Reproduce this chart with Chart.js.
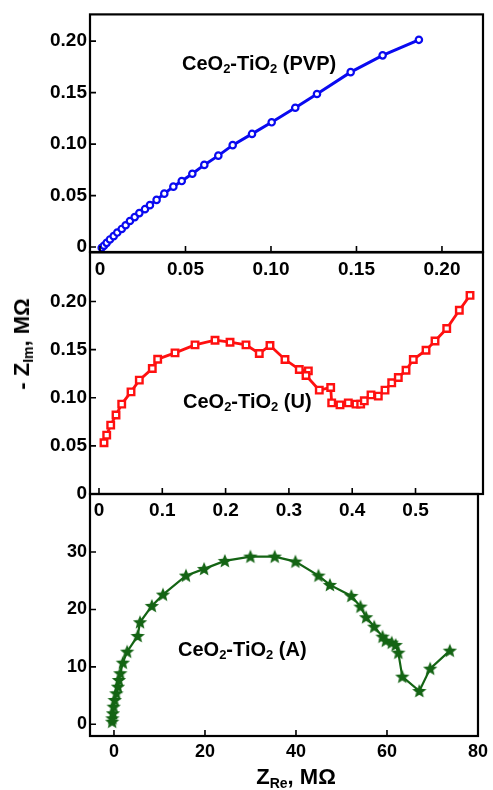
<!DOCTYPE html>
<html>
<head>
<meta charset="utf-8">
<script src="https://cdn.jsdelivr.net/npm/chart.js@4.4.1/dist/chart.umd.min.js"></script>
<style>
    html, body { margin: 0; padding: 0; background: #fff; }
    #wrap { position: relative; width: 493px; height: 790px; overflow: hidden;
            font-family: "Liberation Sans", Arial, sans-serif; font-weight: bold; color: #000; }
    canvas { position: absolute; left: 0; }
    .lbl { position: absolute; white-space: nowrap; font-size: 20px; line-height: 1; }
    .lbl sub { font-size: 13px; vertical-align: -3px; line-height: 0; }
    .ttl { position: absolute; white-space: nowrap; font-size: 22px; line-height: 1;
           transform: translate(-50%, -50%); }
    .ttl sub { font-size: 14px; vertical-align: -4px; line-height: 0; }
    .rot { transform: translate(-50%, -50%) rotate(-90deg); }
</style>
</head>
<body>
<div id="wrap">
    <canvas id="c1" width="493" height="290" style="top:0"></canvas>
    <canvas id="c2" width="493" height="292" style="top:238px"></canvas>
    <canvas id="c3" width="493" height="296" style="top:480px"></canvas>
    <div class="lbl" style="left:182px;top:53px">CeO<sub>2</sub>-TiO<sub>2</sub> (PVP)</div>
    <div class="lbl" style="left:183px;top:391px">CeO<sub>2</sub>-TiO<sub>2</sub> (U)</div>
    <div class="lbl" style="left:178px;top:639px">CeO<sub>2</sub>-TiO<sub>2</sub> (A)</div>
    <div class="ttl rot" style="left:22px;top:344px">- Z<sub>Im</sub>, MΩ</div>
    <div class="ttl" style="left:296px;top:777px">Z<sub>Re</sub>, MΩ</div>
</div>
<script>
// CeO2-TiO2 (PVP)
const pvpRe = [0.0010, 0.0023, 0.0039, 0.0058, 0.0080, 0.0101, 0.0127, 0.0150, 0.0175, 0.0203,
               0.0230, 0.0263, 0.0292, 0.0331, 0.0376, 0.0429, 0.0478, 0.0540, 0.0610, 0.0692,
               0.0776, 0.0889, 0.1004, 0.1142, 0.1269, 0.1466, 0.1653, 0.1865];
const pvpIm = [-0.0007, 0.0013, 0.0041, 0.0074, 0.0106, 0.0141, 0.0176, 0.0212, 0.0253, 0.0291,
               0.0330, 0.0368, 0.0407, 0.0458, 0.0519, 0.0587, 0.0641, 0.0712, 0.0798, 0.0888,
               0.0990, 0.1099, 0.1212, 0.1353, 0.1487, 0.1699, 0.1862, 0.2013];

// CeO2-TiO2 (U)
const uRe = [0.0079, 0.0122, 0.0185, 0.0269, 0.0359, 0.0506, 0.0637, 0.0842, 0.0927, 0.1201,
             0.1517, 0.1833, 0.2070, 0.2322, 0.2532, 0.2701, 0.2938, 0.3164, 0.3307, 0.3270,
             0.3480, 0.3660, 0.3676, 0.3807, 0.3938, 0.4060, 0.4134, 0.4191, 0.4297, 0.4412,
             0.4518, 0.4624, 0.4728, 0.4850, 0.4965, 0.5166, 0.5308, 0.5493, 0.5692, 0.5861];
const uIm = [0.0532, 0.0612, 0.0716, 0.0820, 0.0934, 0.1061, 0.1183, 0.1304, 0.1400, 0.1466,
             0.1549, 0.1598, 0.1577, 0.1549, 0.1460, 0.1543, 0.1397, 0.1294, 0.1279, 0.1231,
             0.1079, 0.1107, 0.0947, 0.0926, 0.0947, 0.0934, 0.0934, 0.0968, 0.1030, 0.1017,
             0.1079, 0.1155, 0.1211, 0.1286, 0.1397, 0.1494, 0.1590, 0.1719, 0.1909, 0.2064];

// CeO2-TiO2 (A)
const aRe = [-0.40, -0.35, -0.22, -0.07, 0.15, 0.52, 0.87, 1.08, 1.39, 1.95, 2.90,
             5.20, 5.72, 8.32, 10.77, 15.82, 19.80, 24.36, 29.99, 35.32, 39.87,
             44.94, 47.45, 52.16, 54.17, 55.41, 57.20, 59.02, 59.74, 61.04, 61.91,
             62.49, 63.36, 67.11, 69.49, 73.82];
const aIm = [0.45, 1.05, 1.92, 3.07, 4.23, 5.40, 6.55, 7.72, 8.89, 10.73, 12.65,
             15.38, 17.77, 20.61, 22.58, 25.89, 27.06, 28.45, 29.20, 29.20, 28.33,
             25.89, 24.27, 22.35, 20.49, 18.64, 17.00, 15.26, 14.56, 14.22, 13.82,
             12.47, 8.29, 5.80, 9.69, 12.82];

// ticks
const pvpXTicks = [0, 0.05, 0.10, 0.15, 0.20];
const pvpXLabels = ['0', '0.05', '0.10', '0.15', '0.20'];
const pvpYTicks = [0, 0.05, 0.10, 0.15, 0.20];
const pvpYLabels = ['0', '0.05', '0.10', '0.15', '0.20'];
const uXTicks = [0, 0.1, 0.2, 0.3, 0.4, 0.5];
const uXLabels = ['0', '0.1', '0.2', '0.3', '0.4', '0.5'];
const uYTicks = [0, 0.05, 0.10, 0.15, 0.20];
const uYLabels = ['0', '0.05', '0.10', '0.15', '0.20'];
const aXTicks = [0, 20, 40, 60, 80];
const aXLabels = ['0', '20', '40', '60', '80'];
const aYTicks = [0, 10, 20, 30];
const aYLabels = ['0', '10', '20', '30'];

function toPoints(xs, ys) {
    return xs.map((x, i) => ({ x: x, y: ys[i] }));
}

// filled five-point star marker
function makeStar(color) {
    const c = document.createElement('canvas');
    c.width = 16; c.height = 16;
    const g = c.getContext('2d');
    g.fillStyle = color;
    g.beginPath();
    for (let i = 0; i < 10; i++) {
        const r = i % 2 === 0 ? 7.5 : 3.3;
        const a = -Math.PI / 2 + i * Math.PI / 5;
        const px = 8 + r * Math.cos(a), py = 8.5 + r * Math.sin(a);
        if (i === 0) g.moveTo(px, py); else g.lineTo(px, py);
    }
    g.closePath();
    g.fill();
    return c;
}

// box round the plot area + inward tick marks
const framePlugin = {
    id: 'frame',
    afterDraw(chart) {
        const { ctx, chartArea: a, scales } = chart;
        ctx.save();
        ctx.strokeStyle = '#000';
        ctx.lineWidth = 2.2;
        ctx.strokeRect(a.left, a.top, a.right - a.left, a.bottom - a.top);
        ctx.lineWidth = 1.6;
        ctx.beginPath();
        scales.x.ticks.forEach(t => {
            const px = scales.x.getPixelForValue(t.value);
            ctx.moveTo(px, a.bottom); ctx.lineTo(px, a.bottom - 6);
        });
        scales.y.ticks.forEach(t => {
            const py = scales.y.getPixelForValue(t.value);
            ctx.moveTo(a.left, py); ctx.lineTo(a.left + 6, py);
        });
        ctx.stroke();
        ctx.restore();
    }
};

function makePanel(id, cfg) {
    const font = { family: '"Liberation Sans", Arial, sans-serif', size: cfg.fontSize, weight: 'bold' };
    return new Chart(document.getElementById(id), {
        type: 'scatter',
        data: {
            datasets: [{
                data: cfg.data,
                showLine: true,
                borderColor: cfg.color,
                borderWidth: cfg.lineWidth,
                pointStyle: cfg.pointStyle,
                pointRadius: cfg.pointRadius,
                pointBorderWidth: cfg.pointBorder,
                pointBorderColor: cfg.color,
                pointBackgroundColor: cfg.pointFill,
                tension: 0
            }]
        },
        options: {
            responsive: false,
            animation: false,
            devicePixelRatio: 1,
            layout: { padding: { top: cfg.padTop, right: 10, left: 0, bottom: 0 } },
            plugins: { legend: { display: false }, tooltip: { enabled: false } },
            scales: {
                x: {
                    type: 'linear',
                    min: cfg.xMin, max: cfg.xMax,
                    grid: { display: false, drawTicks: false },
                    border: { display: false },
                    afterBuildTicks: s => { s.ticks = cfg.xTicks.map(v => ({ value: v })); },
                    afterFit: s => { s.height = cfg.xHeight; },
                    ticks: {
                        color: '#000', font: font, padding: cfg.xPad, maxRotation: 0,
                        callback: (v, i) => cfg.xLabels[i]
                    }
                },
                y: {
                    type: 'linear',
                    min: cfg.yMin, max: cfg.yMax,
                    grid: { display: false, drawTicks: false },
                    border: { display: false },
                    afterBuildTicks: s => { s.ticks = cfg.yTicks.map(v => ({ value: v })); },
                    afterFit: s => { s.width = 90; },
                    ticks: {
                        color: '#000', font: font, padding: 3,
                        callback: (v, i) => cfg.yLabels[i]
                    }
                }
            }
        },
        plugins: [framePlugin]
    });
}

makePanel('c1', {
    data: toPoints(pvpRe, pvpIm), color: '#0a0af0', lineWidth: 3,
    pointStyle: 'circle', pointRadius: 3.2, pointBorder: 2.2, pointFill: '#ffffff',
    xMin: -0.00585, xMax: 0.2240, yMin: -0.0048, yMax: 0.2260,
    xTicks: pvpXTicks, xLabels: pvpXLabels, yTicks: pvpYTicks, yLabels: pvpYLabels,
    padTop: 12, xHeight: 38, xPad: 6, fontSize: 19
});

makePanel('c2', {
    data: toPoints(uRe, uIm), color: '#ff1010', lineWidth: 2.8,
    pointStyle: 'rect', pointRadius: 4.6, pointBorder: 2.4, pointFill: '#ffffff',
    xMin: -0.0142, xMax: 0.6066, yMin: 0, yMax: 0.2510,
    xTicks: uXTicks, xLabels: uXLabels, yTicks: uYTicks, yLabels: uYLabels,
    padTop: 14, xHeight: 36, xPad: 5, fontSize: 19
});

makePanel('c3', {
    data: toPoints(aRe, aIm), color: '#146414', lineWidth: 2.2,
    pointStyle: makeStar('#146414'), pointRadius: 6, pointBorder: 2, pointFill: '#146414',
    xMin: -5.27, xMax: 80, yMin: -2.04, yMax: 40.1,
    xTicks: aXTicks, xLabels: aXLabels, yTicks: aYTicks, yLabels: aYLabels,
    padTop: 14, xHeight: 40, xPad: 5, fontSize: 18
});
</script>
</body>
</html>
